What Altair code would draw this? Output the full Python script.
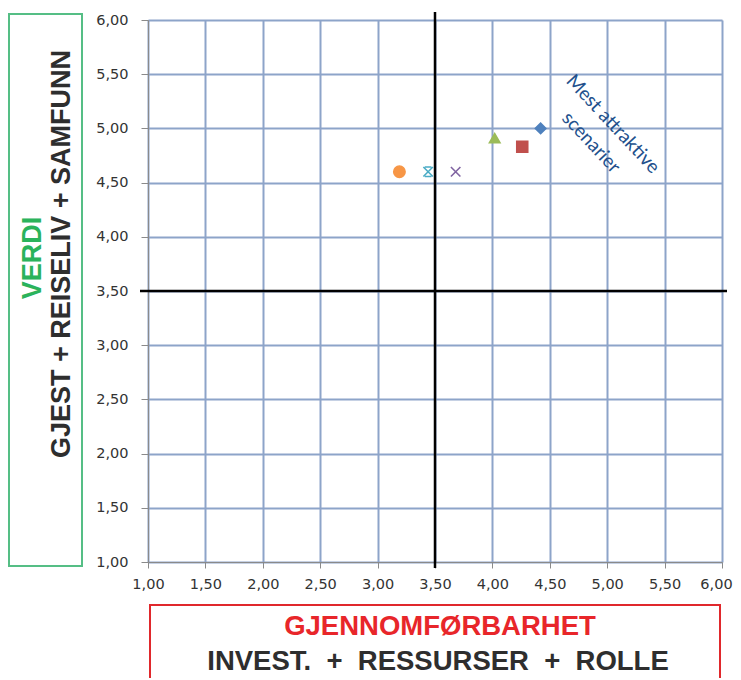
import altair as alt
import pandas as pd

# ---- data ----
scenarios = ["Scenario 1", "Scenario 2", "Scenario 3", "Scenario 4", "Scenario 5", "Scenario 6"]
gjennomforbarhet = [4.42, 4.26, 4.02, 3.68, 3.44, 3.19]
verdi = [5.00, 4.83, 4.91, 4.60, 4.60, 4.60]
colors = ["#4F81BD", "#C0504D", "#9BBB59", "#8064A2", "#4BACC6", "#F79646"]
shapes = ["diamond", "square", "triangle-up",
          "M-1,-1L1,1M1,-1L-1,1",
          "M-1,-1L1,1M1,-1L-1,1M-0.7,-1L0.7,-1M-0.7,1L0.7,1",
          "circle"]
sizes = [110, 120, 110, 90, 90, 130]
tick_values = [1.0, 1.5, 2.0, 2.5, 3.0, 3.5, 4.0, 4.5, 5.0, 5.5, 6.0]
midpoint = [3.5]
annotation_lines = ["Mest attraktive", "scenarier"]
annotation_x = [5.05, 4.86]
annotation_y = [5.04, 4.87]

df = pd.DataFrame({"scenario": scenarios, "x": gjennomforbarhet, "y": verdi, "s": sizes})
ann = pd.DataFrame({"text": annotation_lines, "x": annotation_x, "y": annotation_y})
mid = pd.DataFrame({"v": midpoint})

W, H = 574, 542
label_expr = "replace(format(datum.value, '.2f'), '.', ',')"
NB = "\u00a0"

xscale = alt.Scale(domain=[1, 6], nice=False, zero=False)
yscale = alt.Scale(domain=[1, 6], nice=False, zero=False)
color_scale = alt.Scale(domain=scenarios, range=colors)
shape_scale = alt.Scale(domain=scenarios, range=shapes)

xaxis = alt.Axis(title=None, values=tick_values, labelExpr=label_expr, grid=True,
                 gridColor="#8DA4C9", gridWidth=2, domainColor="#8A8A8A",
                 tickColor="#8A8A8A", tickSize=6, labelPadding=9, labelFlush=False,
                 labelOffset={"condition": {"test": "datum.value >= 6", "value": -6}, "value": 0},
                 labelFont="DejaVu Sans", labelFontSize=14.5, labelColor="#333333")
yaxis = alt.Axis(title=None, values=tick_values, labelExpr=label_expr, grid=True,
                 gridColor="#8DA4C9", gridWidth=2, domainColor="#8A8A8A",
                 tickColor="#8A8A8A", tickSize=7, labelPadding=13, labelFlush=False,
                 labelFont="DejaVu Sans", labelFontSize=14.5, labelColor="#333333")

base = alt.Chart(df).mark_point(filled=True, opacity=1, strokeWidth=1.6).encode(
    x=alt.X("x:Q", scale=xscale, axis=xaxis),
    y=alt.Y("y:Q", scale=yscale, axis=yaxis),
    fill=alt.Fill("scenario:N", scale=color_scale, legend=None),
    stroke=alt.Stroke("scenario:N", scale=color_scale, legend=None),
    shape=alt.Shape("scenario:N", scale=shape_scale, legend=None),
    size=alt.Size("s:Q", scale=None, legend=None),
)

vline = alt.Chart(mid).mark_rule(color="#000000", strokeWidth=2.5).encode(
    x=alt.X("v:Q", scale=xscale), y=alt.value(-8), y2=alt.value(H + 6))
hline = alt.Chart(mid).mark_rule(color="#000000", strokeWidth=2.5).encode(
    y=alt.Y("v:Q", scale=yscale), x=alt.value(-8), x2=alt.value(W + 5))

annot = alt.Chart(ann).mark_text(angle=47, font="Lato", fontSize=19, color="#22508C",
                                 align="center", baseline="middle").encode(
    x=alt.X("x:Q", scale=xscale), y=alt.Y("y:Q", scale=yscale), text="text:N")

# title boxes
green_box = alt.Chart(mid).mark_rect(fill="transparent", stroke="#55BE85", strokeWidth=2).encode(
    x=alt.value(-139), x2=alt.value(-66), y=alt.value(-6), y2=alt.value(H + 4))
red_box = alt.Chart(mid).mark_rect(fill="transparent", stroke="#E0282C", strokeWidth=2).encode(
    x=alt.value(2), x2=alt.value(572), y=alt.value(H + 43), y2=alt.value(H + 160))

verdi_t = alt.Chart(mid).mark_text(angle=270, font="Liberation Sans", fontWeight="bold",
                                   fontSize=27, color="#2BB35B").encode(
    x=alt.value(-115), y=alt.value(238), text=alt.value("VERDI"))
verdi_sub = alt.Chart(mid).mark_text(angle=270, font="Liberation Sans", fontWeight="bold",
                                     fontSize=27, color="#2E2E2E").encode(
    x=alt.value(-86), y=alt.value(234),
    text=alt.value("GJEST + REISELIV + SAMFUNN"))
gj_t = alt.Chart(mid).mark_text(font="Liberation Sans", fontWeight="bold",
                                fontSize=27.5, color="#E8262A").encode(
    x=alt.value(292), y=alt.value(H + 65), text=alt.value("GJENNOMFØRBARHET"))
gj_sub = alt.Chart(mid).mark_text(font="Liberation Sans", fontWeight="bold",
                                  fontSize=27.5, color="#2E2E2E").encode(
    x=alt.value(290), y=alt.value(H + 100),
    text=alt.value(f"INVEST. {NB}+{NB} RESSURSER {NB}+{NB} ROLLE"))

chart = alt.layer(
    base, vline, hline, annot, green_box, red_box, verdi_t, verdi_sub, gj_t, gj_sub
).properties(
    width=W, height=H,
    autosize=alt.AutoSizeParams(type="none"),
    padding={"left": 140, "top": 12, "right": 11, "bottom": 116},
).configure_view(strokeWidth=0).configure(background="white")

chart.save("out.html", embed_options={"renderer": "svg", "actions": False})
